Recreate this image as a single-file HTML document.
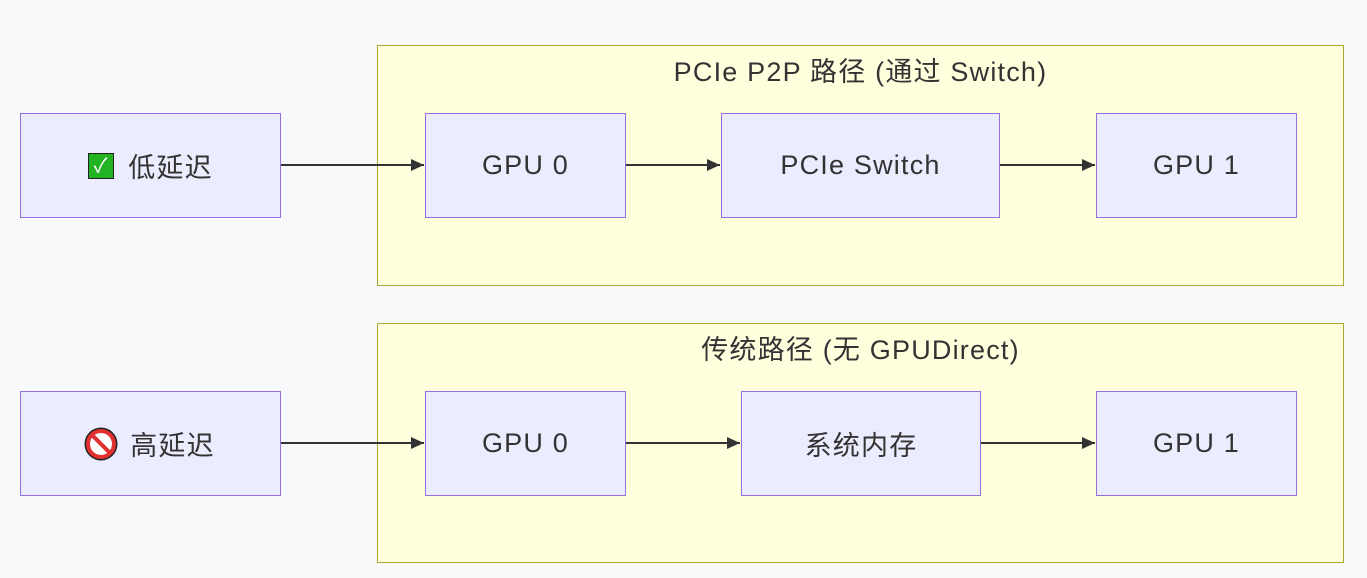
<!DOCTYPE html>
<html><head><meta charset="utf-8"><style>
body{margin:0;width:1367px;height:578px;background:#f8f9fb;position:relative;overflow:hidden;font-family:"Liberation Sans","Noto Sans CJK SC",sans-serif;color:#333}
.c{position:absolute;background:#ffffde;border:1.5px solid #aaaa33;box-sizing:border-box}
.t{position:absolute;left:0;right:0;text-align:center;font-size:27px;letter-spacing:1.2px;top:4px}
.n{position:absolute;background:#ececff;border:1.5px solid #9370db;box-sizing:border-box;display:flex;align-items:center;justify-content:center;font-size:27px;letter-spacing:1.2px}
svg{position:absolute;left:0;top:0}
</style></head><body>
<div class="c" style="left:377px;top:45px;width:967px;height:241px"><div class="t">PCIe P2P 路径 (通过 Switch)</div></div>
<div class="c" style="left:377px;top:323px;width:967px;height:240px"><div class="t">传统路径 (无 GPUDirect)</div></div>
<div class="n" style="left:20px;top:113px;width:261px;height:105px"><span style="display:inline-block;width:26px;height:26px;background:#22b322;border:1.5px solid #222;box-sizing:border-box;color:#fff;font-size:20px;line-height:24px;text-align:center;margin-right:14px">✓</span>低延迟</div>
<div class="n" style="left:425px;top:113px;width:201px;height:105px">GPU 0</div>
<div class="n" style="left:721px;top:113px;width:279px;height:105px">PCIe Switch</div>
<div class="n" style="left:1096px;top:113px;width:201px;height:105px">GPU 1</div>
<div class="n" style="left:20px;top:391px;width:261px;height:105px"><span style="display:inline-block;width:30px;height:30px;border-radius:50%;margin-right:14px;position:relative;box-sizing:border-box;border:4px solid #e03030;background:#fff;box-shadow:0 0 0 1.5px #222"><span style="position:absolute;left:-2px;top:9px;width:26px;height:4px;background:#e03030;transform:rotate(45deg)"></span></span>高延迟</div>
<div class="n" style="left:425px;top:391px;width:201px;height:105px">GPU 0</div>
<div class="n" style="left:741px;top:391px;width:240px;height:105px">系统内存</div>
<div class="n" style="left:1096px;top:391px;width:201px;height:105px">GPU 1</div>
<svg width="1367" height="578"><defs><marker id="a" markerWidth="14" markerHeight="14" refX="13" refY="6" orient="auto" markerUnits="userSpaceOnUse"><path d="M0,0L13,6L0,12z" fill="#333"/></marker></defs>
<g stroke="#333" stroke-width="2" marker-end="url(#a)">
<line x1="281" y1="165" x2="424" y2="165"/><line x1="626" y1="165" x2="720" y2="165"/><line x1="1000" y1="165" x2="1095" y2="165"/>
<line x1="281" y1="443" x2="424" y2="443"/><line x1="626" y1="443" x2="740" y2="443"/><line x1="981" y1="443" x2="1095" y2="443"/>
</g></svg>
</body></html>
